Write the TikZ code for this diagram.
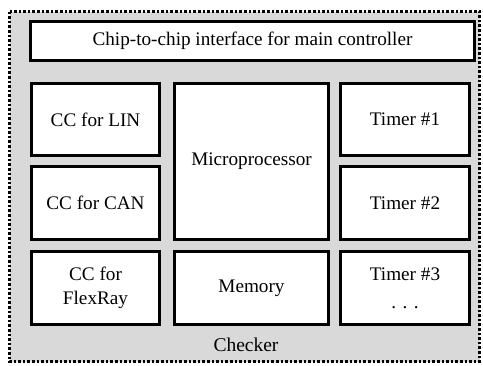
\documentclass[tikz,border=0pt]{standalone}
\usepackage{fontspec}
\setmainfont{Liberation Serif}
\begin{document}
\begin{tikzpicture}[x=1pt,y=-1pt,
  blk/.style={draw=black, line width=3pt, fill=white, rectangle, inner sep=0pt,
    font=\fontsize{19.2}{24}\selectfont, align=center},
  frame/.style={draw=black, line width=2.6pt, fill=black!15,
    dash pattern=on 2.6pt off 2pt}]
  \useasboundingbox (0,0) rectangle (483,365);
  % dotted outer frame of the checker
  \draw[frame] (9.5,11.5) rectangle (479.5,361.5);
  % blocks: node at centre, size from corners
  \newcommand{\blkat}[6]{%
    \node[blk, minimum width={#4-#2}, minimum height={#5-#3}] (#1)
      at ({(#2+#4)/2},{(#3+#5)/2}) {#6};}
  \blkat{cci}{30.5}{21.5}{474.5}{60.5}{Chip-to-chip interface for main controller}
  \blkat{lin}{31.5}{83.5}{159.5}{155.5}{CC for LIN}
  \blkat{can}{31.5}{166.5}{159.5}{239.5}{CC for CAN}
  \blkat{flex}{31.5}{251.5}{159.5}{324.5}{CC for\\FlexRay}
  \blkat{cpu}{174.5}{83.5}{328.5}{239.5}{Microprocessor}
  \blkat{mem}{174.5}{251.5}{328.5}{324.5}{Memory}
  \blkat{tone}{340.5}{83.5}{469.5}{155.5}{Timer \#1}
  \blkat{ttwo}{340.5}{166.5}{469.5}{239.5}{Timer \#2}
  \blkat{tthree}{340.5}{251.5}{469.5}{324.5}{Timer \#3\\[4pt]. . .}
  \node[font=\fontsize{19.5}{24}\selectfont] (chk) at (246,345) {Checker};
\end{tikzpicture}
\end{document}
